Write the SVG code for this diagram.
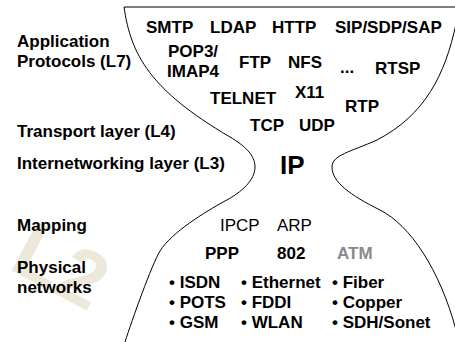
<svg xmlns="http://www.w3.org/2000/svg" width="455" height="342" viewBox="0 0 455 342">
<style>
text{font-family:"Liberation Sans",Arial,sans-serif;font-size:17px;font-weight:bold;fill:#000}
.reg{font-weight:normal}
.grey{fill:#8a8a8a}
.big{font-size:26px}
.wm{font-size:80px;fill:#ECE8DA}
.outline{fill:none;stroke:#000;stroke-width:1}
</style>
<rect width="455" height="342" fill="#fff"/>
<g id="watermark"><text class="wm" transform="translate(7,268) rotate(28)">L2</text></g>
<g id="hourglass">
<path class="outline" d="M455,7 H124 C131,55 150,90 230,137 C245,146 255,155 255,167 C255,180 242,192 225,201 C205,212 172,232 160,251 C152,264 132,320 125,342"/>
<path class="outline" d="M456,24 C445,75 425,115 377,140 C350,152 332,155 332,167 C332,182 350,195 380,210 C410,225 440,270 456,330"/>
</g>
<g id="layer-labels">
<text x="17" y="47">Application</text>
<text x="17" y="67">Protocols (L7)</text>
<text x="17" y="137">Transport layer (L4)</text>
<text x="17" y="169">Internetworking layer (L3)</text>
<text x="17" y="231">Mapping</text>
<text x="17" y="273">Physical</text>
<text x="17" y="293">networks</text>
</g>
<g id="application">
<text x="146" y="33">SMTP</text>
<text x="210" y="33">LDAP</text>
<text x="272" y="33">HTTP</text>
<text x="335" y="33">SIP/SDP/SAP</text>
<text x="168" y="57">POP3/</text>
<text x="167" y="77">IMAP4</text>
<text x="239" y="68">FTP</text>
<text x="288" y="68">NFS</text>
<text x="340" y="73">...</text>
<text x="375" y="74">RTSP</text>
<text x="210" y="104">TELNET</text>
<text x="295" y="98">X11</text>
<text x="345" y="112">RTP</text>
</g>
<g id="transport">
<text x="250" y="131">TCP</text>
<text x="299" y="131">UDP</text>
</g>
<g id="internetworking"><text class="big" x="280" y="174">IP</text></g>
<g id="mapping">
<text class="reg" x="220" y="231">IPCP</text>
<text class="reg" x="277" y="231">ARP</text>
</g>
<g id="link">
<text x="205" y="259">PPP</text>
<text x="277" y="259">802</text>
<text class="grey" x="337" y="259">ATM</text>
</g>
<g id="physical">
<text x="169" y="288">• ISDN</text>
<text x="169" y="308">• POTS</text>
<text x="169" y="328">• GSM</text>
<text x="241" y="288">• Ethernet</text>
<text x="241" y="308">• FDDI</text>
<text x="241" y="328">• WLAN</text>
<text x="332" y="288">• Fiber</text>
<text x="332" y="308">• Copper</text>
<text x="332" y="328">• SDH/Sonet</text>
</g>
</svg>
